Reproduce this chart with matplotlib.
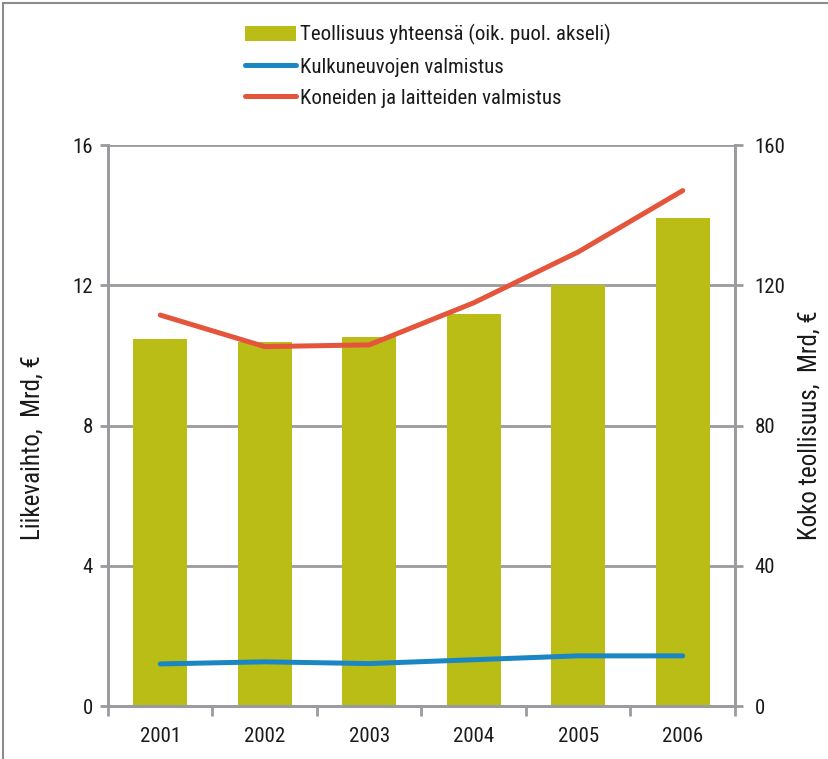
import matplotlib
matplotlib.use("Agg")
import matplotlib.pyplot as plt
from matplotlib.lines import Line2D
from matplotlib.patches import Patch
import numpy as np

plt.rcParams['font.family'] = ['Roboto Condensed', 'DejaVu Sans']

years = ["2001", "2002", "2003", "2004", "2005", "2006"]
teollisuus = [104.7, 103.8, 105.2, 111.8, 120.0, 139.2]      # right axis
kulkuneuvot = [1.20, 1.26, 1.21, 1.32, 1.43, 1.43]           # left axis
koneet = [11.15, 10.25, 10.30, 11.50, 12.95, 14.70]          # left axis

left_ticks = [0, 4, 8, 12, 16]
right_ticks = [0, 40, 80, 120, 160]

BAR = "#bbbd17"
BLUE = "#1a86c3"
RED = "#e4553b"
GRAY = "#9a9b9f"
TXT = "#1a1a1a"
FS = 15

fig = plt.figure(figsize=(8.29, 7.59), dpi=100)
W, H = 829, 759

# back axes: bars on the 0..160 scale plus the horizontal grid
ax2 = fig.add_axes([108 / W, 1 - 706 / H, (735 - 108) / W, (706 - 145) / H])
# front axes: lines on the 0..16 scale
ax = ax2.twinx()

x = np.arange(len(years))

ax2.set_ylim(0, 160)
for v in right_ticks[1:]:
    ax2.axhline(v, color=GRAY, lw=2, zorder=0)
ax2.bar(x, teollisuus, width=0.52, color=BAR, zorder=2)
ax2.set_xlim(-0.5, len(years) - 0.5)
ax2.set_yticks([])

ax.set_ylim(0, 16)
ax.plot(x, kulkuneuvot, color=BLUE, lw=3.6, solid_capstyle='round', zorder=3)
ax.plot(x, koneet, color=RED, lw=3.6, solid_capstyle='round', zorder=3)
ax.set_yticks([])

# left scale
lsec = ax.secondary_yaxis('left')
lsec.set_yticks(left_ticks)
lsec.tick_params(axis='y', length=6, width=2, color=GRAY, pad=5,
                 labelsize=FS, labelcolor=TXT)
lsec.spines['left'].set_visible(False)

# right scale
rsec = ax.secondary_yaxis('right', functions=(lambda v: v * 10, lambda v: v / 10))
rsec.set_yticks(right_ticks)
rsec.tick_params(axis='y', length=6, width=2, color=GRAY, pad=8,
                 labelsize=FS, labelcolor=TXT)
rsec.spines['right'].set_visible(False)

for a in (ax, ax2):
    a.spines['top'].set_visible(False)
    for s in ('left', 'right', 'bottom'):
        a.spines[s].set_color(GRAY)
        a.spines[s].set_linewidth(2)

# x axis: labels at centres, ticks at category boundaries
ax2.set_xticks(x)
ax2.set_xticklabels(years, fontsize=FS, color=TXT)
ax2.tick_params(axis='x', which='major', length=0, pad=15)
ax2.set_xticks(np.arange(-0.5, len(years)), minor=True)
ax2.tick_params(axis='x', which='minor', length=7, width=2, color=GRAY)
ax.tick_params(axis='x', length=0)

# axis titles, both running upward from the same baseline height
fig.text(33 / W, 1 - 540 / H, "Liikevaihto,  Mrd, €", rotation=90,
         ha='center', va='bottom', fontsize=18, color=TXT)
fig.text(810 / W, 1 - 540 / H, "Koko teollisuus,  Mrd, €", rotation=90,
         ha='center', va='bottom', fontsize=18, color=TXT)

# legend
handles = [
    Patch(facecolor=BAR, edgecolor='none'),
    Line2D([0], [0], color=BLUE, lw=3.6, solid_capstyle='round'),
    Line2D([0], [0], color=RED, lw=3.6, solid_capstyle='round'),
]
labels = ["Teollisuus yhteensä (oik. puol. akseli)",
          "Kulkuneuvojen valmistus",
          "Koneiden ja laitteiden valmistus"]
leg = fig.legend(handles, labels, loc='upper left', bbox_to_anchor=(237 / W, 1 - 16 / H),
                 frameon=False, fontsize=15.0, handlelength=2.45, handletextpad=0.18,
                 labelspacing=0.58, borderaxespad=0)
for t in leg.get_texts():
    t.set_color(TXT)

# outer frame (left and top edges)
fig.add_artist(Line2D([3 / W, 3 / W], [0, 1 - 3 / H], color="#8c8c8c", lw=1.5,
                      transform=fig.transFigure))
fig.add_artist(Line2D([3 / W, 1], [1 - 3 / H, 1 - 3 / H], color="#8c8c8c", lw=1.5,
                      transform=fig.transFigure))

fig.savefig("out.png", dpi=100)
